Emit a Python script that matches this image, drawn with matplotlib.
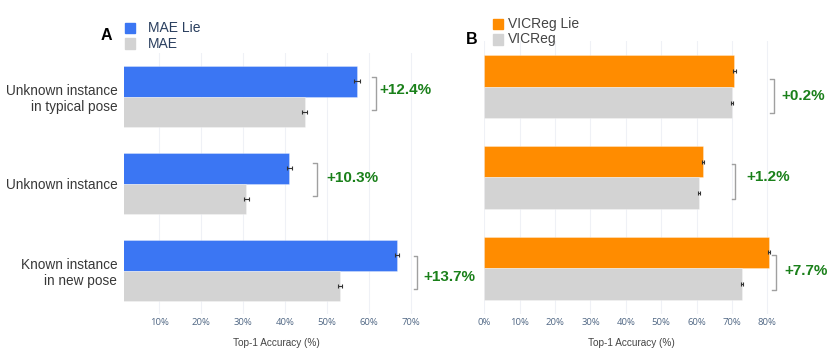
import matplotlib.pyplot as plt
import numpy as np
from matplotlib.patches import Rectangle

# data
categories = ["Unknown instance\nin typical pose", "Unknown instance", "Known instance\nin new pose"]
mae_lie = [57.1, 41.0, 66.7]
mae = [44.7, 30.7, 53.0]
mae_err = [0.6, 0.6, 0.5]
vic_lie = [70.7, 61.8, 80.4]
vic = [70.0, 60.6, 72.8]
vic_err = [0.3, 0.25, 0.2]
mae_gain = ["+12.4%", "+10.3%", "+13.7%"]
vic_gain = ["+0.2%", "+1.2%", "+7.7%"]

# bracket layout: (x of ticks, x of vertical, y offset, text x, text y offset)
mae_brackets = [(60.6, 61.6, -0.04, 62.5, -0.08), (46.6, 47.5, -0.05, 49.9, -0.07), (70.6, 71.3, 0.02, 72.9, 0.075)]
vic_brackets = [(80.7, 81.8, 0.10, 84.0, 0.10), (70.0, 70.8, 0.045, 74.1, 0.0), (81.3, 82.3, 0.045, 84.9, 0.03)]

W, H = 831, 358
fig = plt.figure(figsize=(W / 100, H / 100), dpi=100)


def box(x0, y0, x1, y1):
    # pixel box (top-left origin) -> figure fraction
    return [x0 / W, 1 - y1 / H, (x1 - x0) / W, (y1 - y0) / H]


ax1 = fig.add_axes(box(124.3, 53.2, 428, 314))
ax2 = fig.add_axes(box(484.3, 41.3, 778, 313.7))

tick_font = dict(family="Open Sans", size=6.8, color="#506784")
y = np.arange(len(categories))
h = 0.35


def panel(ax, lie, base, err, color, gains, brackets, xlim, ticks):
    ax.barh(y - h / 2, lie, height=h, color=color, edgecolor=(1, 1, 1, 0.35), linewidth=0.6, zorder=2)
    ax.barh(y + h / 2, base, height=h, color="#d3d3d3", edgecolor=(1, 1, 1, 0.35), linewidth=0.6, zorder=2)
    ax.errorbar(lie, y - h / 2, xerr=err, fmt="none", ecolor="#333333", elinewidth=0.8, capsize=1.5, capthick=0.8, zorder=3)
    ax.errorbar(base, y + h / 2, xerr=err, fmt="none", ecolor="#333333", elinewidth=0.8, capsize=1.5, capthick=0.8, zorder=3)
    for i, (g, (xt, xv, dy, tx, tdy)) in enumerate(zip(gains, brackets)):
        c = i + dy
        ax.plot([xt, xv, xv, xt], [c - 0.19, c - 0.19, c + 0.19, c + 0.19], color="#a0a0a0", lw=1.0, clip_on=False, zorder=3)
        ax.text(tx, i + tdy, g, color="#1a801a", fontsize=11, fontweight="bold", family="Liberation Sans", va="center", ha="left", clip_on=False)
    ax.set_xlim(*xlim)
    ax.set_ylim(2.5, -0.5)
    ax.set_xticks(ticks)
    ax.set_xticklabels([f"{t}%" for t in ticks], fontdict=tick_font)
    ax.grid(axis="x", color="#eff1f6", lw=0.8, zorder=0)
    ax.set_axisbelow(True)
    for s in ax.spines.values():
        s.set_visible(False)
    ax.tick_params(length=0, pad=3)
    ax.set_xlabel("Top-1 Accuracy (%)", family="Liberation Sans", fontsize=7.2, color="#444444", labelpad=8)


panel(ax1, mae_lie, mae, mae_err, "#3b76f3", mae_gain, mae_brackets, (1.7, 74), list(range(10, 80, 10)))
panel(ax2, vic_lie, vic, vic_err, "#ff8c00", vic_gain, vic_brackets, (0, 83), list(range(0, 90, 10)))

ax1.set_yticks(y)
ax1.set_yticklabels(categories, family="Liberation Sans", fontsize=9.8, color="#383838")
ax1.tick_params(axis="y", pad=5)
ax2.set_yticks([])

# panel letters and legends
fig.text(106.7 / W, 1 - 36 / H, "A", fontsize=11.5, fontweight="bold", family="Liberation Sans", ha="center", va="center")
fig.text(471.7 / W, 1 - 39 / H, "B", fontsize=11.5, fontweight="bold", family="Liberation Sans", ha="center", va="center")

legend_items = [
    (125, 23, "#3b76f3", "MAE Lie", "#2a3f5f"),
    (125, 38.5, "#d3d3d3", "MAE", "#2a3f5f"),
    (493, 19, "#ff8c00", "VICReg Lie", "#444444"),
    (493, 34.5, "#d3d3d3", "VICReg", "#444444"),
]
for lx, ly, col, lab, tcol in legend_items:
    fig.add_artist(Rectangle((lx / W, 1 - (ly + 10) / H), 10 / W, 10 / H, transform=fig.transFigure, color=col))
    fig.text((lx + 23 if lx < 400 else lx + 15) / W, 1 - (ly + 5) / H, lab, fontsize=10, family="Liberation Sans", color=tcol, va="center", ha="left")

fig.savefig("out.png", dpi=100)
